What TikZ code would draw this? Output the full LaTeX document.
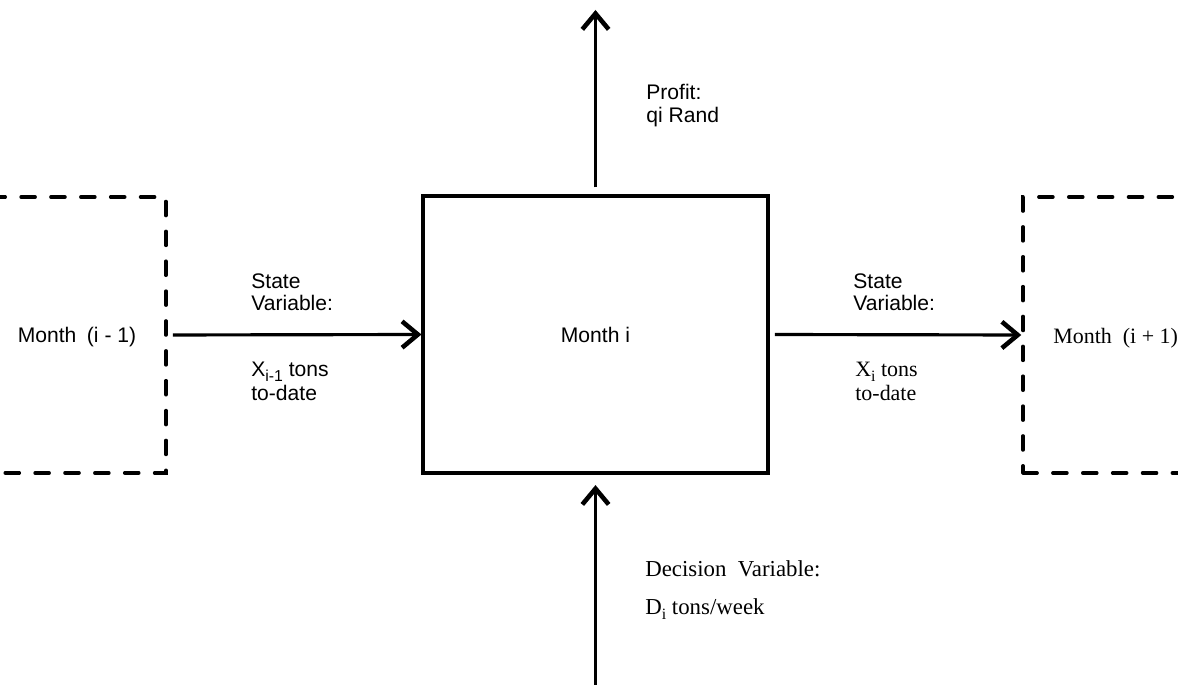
\documentclass[tikz,border=0pt]{standalone}
\usepackage{fontspec}
\setmainfont{Liberation Sans}
\newfontfamily\serfont{Liberation Serif}
\usetikzlibrary{arrows.meta}
\newcommand{\lowsub}[1]{\raisebox{-0.45ex}{\fontsize{9}{9}\selectfont #1}}

\begin{document}
\begin{tikzpicture}[x=0.02cm, y=-0.02cm,
  every node/.style={font=\fontsize{12}{12.5}\selectfont, inner sep=0pt},
  stage/.style={draw, line width=1.8pt, minimum width=6.9cm, minimum height=5.54cm},
  neighbour/.style={draw, line width=2pt, line cap=round, dash pattern=on 8pt off 9pt,
    minimum width=6.8cm, minimum height=5.52cm},
  flow/.style={line width=1.8pt, -{Straight Barb[length=9pt, width=15pt, line width=2.6pt]}},
  serif/.style={font=\fontsize{12.5}{13.5}\selectfont\serfont}
]
\useasboundingbox (0,0) rectangle (1178,685);
\node[stage] (month) at (595.5,334.5) {Month i};
\node[neighbour] (prev) at (-4,335) {};
\node[neighbour] (next) at (1193,335) {};
\node (prevname) at (77,337) {Month\enspace(i - 1)};
\node[serif, anchor=base west] (nextname) at (1053,344) {Month\enspace(i + 1)};
\coordinate (gain) at (595.5,10);
\coordinate (choice) at (595.5,685);

\draw[flow, shorten <=3pt] (prev.east) -- (month.west);
\draw[flow, shorten <=3pt] (month.east) -- (next.west);
\draw[flow, shorten <=4pt] (month.north) -- (gain);
\draw[flow, shorten >=6pt] (choice) -- (month.south);

\node[anchor=south west, align=left] (instate) at (251,311) {State\\Variable:};
\node[anchor=north west, align=left, font=\fontsize{12}{13.5}\selectfont] (inamount) at (251,362) {X\lowsub{i-1}\ tons\\to-date};
\node[anchor=south west, align=left] (outstate) at (853,311) {State\\Variable:};
\node[serif, anchor=north west, align=left] (outamount) at (855,362) {X\lowsub{i} tons\\to-date};
\node[anchor=north west, align=left, font=\fontsize{12}{13}\selectfont] (profit) at (646,84) {Profit:\\qi Rand};
\node[serif, font=\fontsize{13}{13}\selectfont\serfont, anchor=base west] (decision) at (645,577) {Decision\ \ Variable:};
\node[serif, font=\fontsize{13}{13}\selectfont\serfont, anchor=base west] (amount) at (645,615) {D\lowsub{i} tons/week};
\end{tikzpicture}
\end{document}
